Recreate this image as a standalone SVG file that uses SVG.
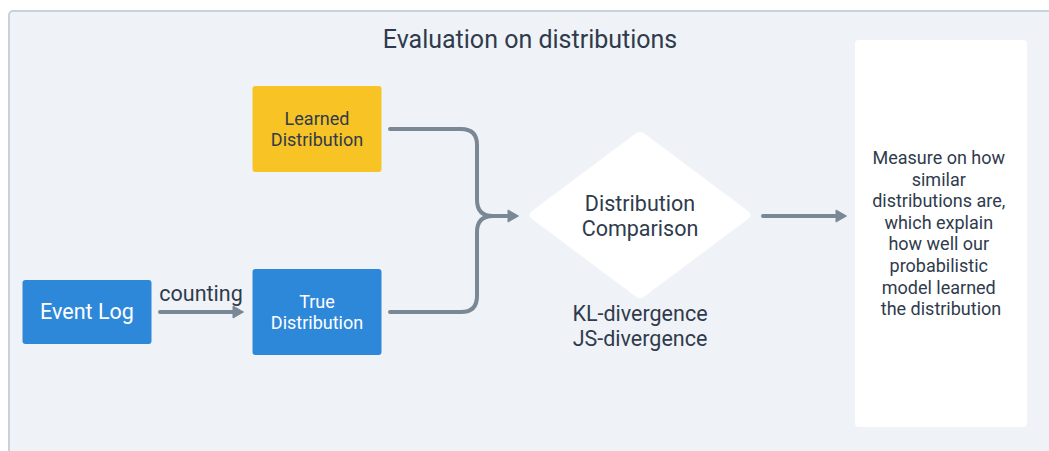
<svg xmlns="http://www.w3.org/2000/svg" width="1049" height="451" viewBox="0 0 1049 451">
  <style>
    .lbl { font-family: Roboto, "Liberation Sans", sans-serif; fill: #2f3b4c; text-anchor: middle; }
    .wht { font-family: Roboto, "Liberation Sans", sans-serif; fill: #ffffff; text-anchor: middle; }
    .edge { fill: none; stroke: #7a8795; stroke-width: 4; stroke-linecap: round; stroke-linejoin: round; }
  </style>
  <defs>
    <marker id="arrow" markerWidth="13" markerHeight="15" refX="1" refY="7" orient="auto" markerUnits="userSpaceOnUse">
      <path d="M1,1 L11.5,7 L1,13 Z" fill="#7a8795" stroke="#7a8795" stroke-width="1" stroke-linejoin="round"/>
    </marker>
  </defs>

  <!-- container panel -->
  <g id="container">
    <rect x="9" y="11" width="1060" height="460" rx="4" fill="#eff3f7" stroke="#c9d1da" stroke-width="2"/>
    <text class="lbl" x="530" y="48" font-size="25">Evaluation on distributions</text>
  </g>

  <!-- connectors -->
  <g id="connectors">
    <path class="edge" d="M160,312 L233,312" marker-end="url(#arrow)"/>
    <text class="lbl" x="201" y="301" font-size="21.5">counting</text>
    <path class="edge" d="M390,129 L461,129 Q477,129 477,145 L477,200 Q477,216 493,216 L508,216" marker-end="url(#arrow)"/>
    <path class="edge" d="M390,312 L461,312 Q477,312 477,296 L477,232 Q477,216 493,216"/>
    <path class="edge" d="M763,216 L836,216" marker-end="url(#arrow)"/>
  </g>

  <g id="learned">
    <rect x="252.5" y="86" width="129" height="86" rx="3" fill="#f7c325"/>
    <text class="lbl" x="317" y="125" font-size="18">Learned</text>
    <text class="lbl" x="317" y="146" font-size="18">Distribution</text>
  </g>

  <g id="eventlog">
    <rect x="22.5" y="280" width="129" height="64" rx="3" fill="#2e88d9"/>
    <text class="wht" x="87" y="319" font-size="21.5">Event Log</text>
  </g>

  <g id="true">
    <rect x="252.5" y="269" width="129" height="86" rx="3" fill="#2e88d9"/>
    <text class="wht" x="317" y="308" font-size="18">True</text>
    <text class="wht" x="317" y="329" font-size="18">Distribution</text>
  </g>

  <g id="comparison">
    <path d="M532,219 Q527,215 532,211 L635,134 Q640,130 645,134 L748,211 Q753,215 748,219 L645,296 Q640,300 635,296 Z" fill="#ffffff"/>
    <text class="lbl" x="640" y="211" font-size="21.5">Distribution</text>
    <text class="lbl" x="640" y="236" font-size="21.5">Comparison</text>
    <text class="lbl" x="640" y="321" font-size="21.5">KL-divergence</text>
    <text class="lbl" x="640" y="346" font-size="21.5">JS-divergence</text>
  </g>

  <g id="measure">
    <rect x="855" y="40" width="172" height="387" rx="4" fill="#ffffff"/>
    <text class="lbl" font-size="18">
      <tspan x="941" y="164">Measure on how</tspan>
      <tspan x="941" y="185.6">similar</tspan>
      <tspan x="941" y="207.2">distributions are,</tspan>
      <tspan x="941" y="228.8">which explain</tspan>
      <tspan x="941" y="250.4">how well our</tspan>
      <tspan x="941" y="272">probabilistic</tspan>
      <tspan x="941" y="293.6">model learned</tspan>
      <tspan x="941" y="315.2">the distribution</tspan>
    </text>
  </g>
</svg>
